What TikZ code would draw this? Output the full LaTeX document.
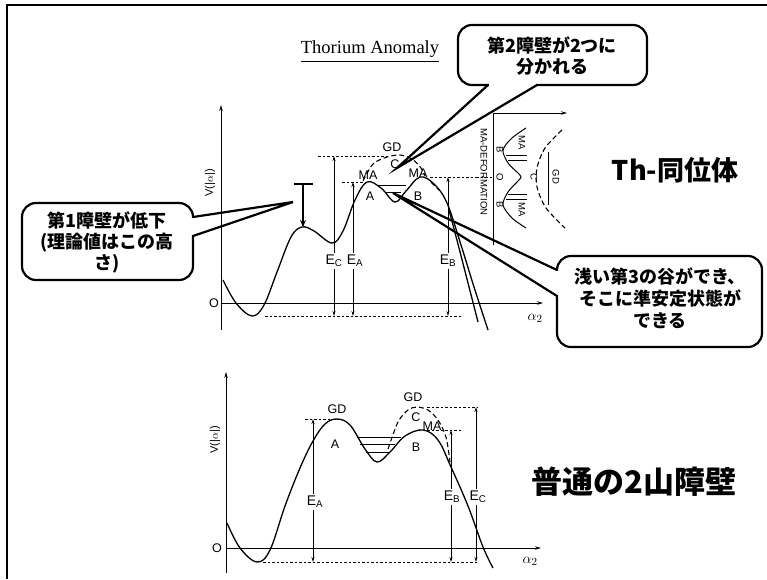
\documentclass[tikz,border=0pt]{standalone}
\usepackage{fontspec}
\setmainfont{Liberation Serif}
\setsansfont{Liberation Sans}
\newfontfamily\jp{Noto Sans CJK JP}
\usetikzlibrary{arrows.meta}
\begin{document}
\begin{tikzpicture}[x=1pt,y=-1pt,
  curve/.style={line width=1.3pt},
  axis/.style={line width=0.9pt,-{Stealth[length=6pt,width=3.5pt]}},
  dots/.style={line width=0.9pt,dash pattern=on 2.5pt off 2pt},
  dcurve/.style={line width=1.1pt,dash pattern=on 5pt off 3pt},
  earrow/.style={line width=0.8pt,-{Stealth[length=5pt,width=3pt]}},
  lab/.style={font=\sffamily\fontsize{12.5}{12.5}\selectfont,inner sep=0pt},
  rlab/.style={font=\sffamily\fontsize{9.5}{9.5}\selectfont,inner sep=0pt,rotate=-90},
  elab/.style={font=\sffamily\fontsize{14}{14}\selectfont,inner sep=2pt},
  boxline/.style={line width=2.2pt},
  ctext/.style={font=\jp\bfseries\fontsize{18}{21}\selectfont,align=center,inner sep=0pt},
  lvl/.style={line width=1pt}
]
\useasboundingbox (0,0) rectangle (767,579);
% frame
\draw[line width=2.5pt] (7,579) -- (7,5) -- (767,5);

% ================= TOP DIAGRAM =================
\node[font=\fontsize{18.5}{18.5}\selectfont,inner sep=0pt] (title) at (370,49) {Thorium Anomaly};
\draw[line width=0.8pt] ([yshift=-4pt]title.south west) -- ([yshift=-4pt]title.south east);

\coordinate (tyb) at (221,330);
\coordinate (tyt) at (221,105);
\coordinate (txl) at (221,303);
\coordinate (txr) at (543,303);
\draw[axis] (tyb) -- (tyt);
\draw[axis] (txl) -- (txr);
\node[lab,rotate=90,font=\sffamily\fontsize{11}{11}\selectfont] (tV) at (210,183) {V(|$\alpha$|)};
\node[lab] (tO) at (214,303) {O};
\node[inner sep=0pt,font=\fontsize{15}{15}\selectfont] (ta2) at (535,318) {$\alpha_2$};

% dotted lines
\draw[dots] (265,316) -- (462,316);
\draw[dots] (318,156) -- (387,156);
\draw[dots] (342,182) -- (365,182);
\draw[dots] (430,177) -- (476,177);

% potential curve
\draw[curve] plot[smooth,tension=0.6] coordinates {(223,280) (236,303) (252,316) (264,305) (277,272) (291,237) (302,227) (314,231) (332,243) (343,231) (355,200) (367,182) (381,188) (395,202) (406,191) (420,177) (434,184) (447,203) (461,245) (474,287) (488,330)};
\draw[curve] plot[smooth] coordinates {(449,210) (459,248) (478,322)};
\draw[dcurve] plot[smooth] coordinates {(363,181) (373,164) (387,157) (400,155) (412,159) (421,168) (425,176)};
\draw[dcurve] (431,182) -- (439,190);
\draw[lvl] (377,185) -- (406,185);
\draw[lvl] (385,192) -- (401,192);

\node[lab] (tGD) at (392,147) {GD};
\node[lab] (tC) at (395,164) {C};
\node[lab] (tMA1) at (368,175) {MA};
\node[lab] (tMA2) at (418,173) {MA};
\node[lab] (tA) at (370,196) {A};
\node[lab] (tB) at (418,196) {B};

% energy arrows
\node[elab] (tEC) at (334,261) {E\textsubscript{C}};
\node[elab] (tEA) at (355,261) {E\textsubscript{A}};
\node[elab] (tEB) at (448,261) {E\textsubscript{B}};
\draw[earrow] (tEC.north) -- (334,156);
\draw[earrow] (tEC.south) -- (334,316);
\draw[earrow] (tEA.north -| 353,0) -- (353,182);
\draw[earrow] (tEA.south -| 353,0) -- (353,316);
\draw[earrow] (tEB.north) -- (448,177);
\draw[earrow] (tEB.south) -- (448,316);

% inset MA-deformation
\coordinate (iyb) at (493,245);
\coordinate (ior) at (493,113);
\coordinate (ixr) at (567,113);
\draw[line width=0.9pt] (iyb) -- (ior);
\draw[axis] (ior) -- (ixr);
\node[rlab,font=\sffamily\fontsize{9.5}{9.5}\selectfont] (imd) at (484,172) {MA-DEFORMATION};
\node[rlab] (iB1) at (500,150) {B};
\node[rlab] (iO) at (500,177) {O};
\node[rlab] (iB2) at (500,205) {B};
\draw[dots] (476,177) -- (493,177);
\draw[line width=1pt] plot[smooth] coordinates {(526,128) (512,138) (503,150) (508,163) (518,173) (521,177) (518,181) (508,192) (503,205) (512,218) (526,228)};
\draw[lvl] (506,155) -- (527,155);
\draw[lvl] (508,160) -- (527,160);
\draw[lvl] (506,199) -- (527,199);
\draw[lvl] (508,194) -- (527,194);
\node[rlab] (iMA1) at (522,143) {MA};
\node[rlab] (iMA2) at (522,210) {MA};
\node[rlab] (iC) at (534,177) {C};
\node[rlab] (iGD) at (556,177) {GD};
\draw[dcurve] plot[smooth] coordinates {(562,130) (545,148) (537,168) (537,187) (546,208) (565,228)};
\draw[lvl] (548,152) -- (548,205);

% ================= BOTTOM DIAGRAM =================
\coordinate (byb) at (226,573);
\coordinate (byt) at (226,372);
\coordinate (bxl) at (226,548);
\coordinate (bxr) at (541,548);
\draw[axis] (byb) -- (byt);
\draw[axis] (bxl) -- (bxr);
\node[lab,rotate=90,font=\sffamily\fontsize{11}{11}\selectfont] (bV) at (215,440) {V(|$\alpha$|)};
\node[lab] (bO) at (217,548) {O};
\node[inner sep=0pt,font=\fontsize{15}{15}\selectfont] (ba2) at (530,561) {$\alpha_2$};

\draw[dots] (263,562) -- (478,562);
\draw[dots] (305,419) -- (337,419);
\draw[dots] (427,430) -- (462,430);
\draw[dots] (427,407) -- (478,407);

\draw[curve] plot[smooth,tension=0.6] coordinates {(227,523) (240,548) (257,562) (270,550) (285,506) (300,468) (313,441) (325,424) (337,419) (350,425) (365,449) (377,462) (390,452) (405,436) (423,430) (438,440) (451,467) (468,506) (483,547) (493,568)};
\draw[dcurve] plot[smooth] coordinates {(388,449) (398,422) (408,410) (417,407) (428,410) (438,420) (446,437) (450,462)};
\draw[lvl] (357,437) -- (401,437);
\draw[lvl] (360,444) -- (395,444);
\draw[lvl] (366,452) -- (389,452);

\node[lab] (bGD1) at (337,409) {GD};
\node[lab] (bA) at (335,444) {A};
\node[lab] (bGD2) at (413,397) {GD};
\node[lab] (bC) at (416,417) {C};
\node[lab] (bMA) at (432,426) {MA};
\node[lab] (bB) at (416,447) {B};

\node[elab] (bEA) at (315,502) {E\textsubscript{A}};
\node[elab] (bEB) at (452,497) {E\textsubscript{B}};
\node[elab] (bEC) at (478,497) {E\textsubscript{C}};
\draw[earrow] (bEA.north -| 313,0) -- (313,419);
\draw[earrow] (bEA.south -| 313,0) -- (313,562);
\draw[earrow] (bEB.north -| 451,0) -- (451,430);
\draw[earrow] (bEB.south -| 451,0) -- (451,562);
\draw[earrow] (bEC.north -| 476,0) -- (476,407);
\draw[earrow] (bEC.south -| 476,0) -- (476,562);

% ================= CALLOUTS =================
% callout 1
\coordinate (p1) at (293,202);
\draw[boxline,rounded corners=14pt,fill=white] (22,203) rectangle (193,280);
\fill[white] (190.5,218.3) rectangle (195.5,234.7);
\draw[boxline] (193,217) -- (p1) -- (193,236);
\node[ctext] (c1) at (107,242) {第1障壁が低下\\(理論値はこの高\\さ)};
\coordinate (bar) at (303,184);
\draw[line width=2pt] (294,184) -- (313,184);
\draw[line width=2pt,-{Stealth[length=7pt,width=6pt]}] (bar) -- (303,227);

% callout 2
\coordinate (p2) at (397,168);
\draw[boxline,rounded corners=14pt,fill=white] (458,25) rectangle (647,85);
\fill[white] (489.3,82.5) rectangle (535.7,87.5);
\draw[boxline] (488,85) -- (p2) -- (537,85);
\node[ctext] (c2) at (552,56) {第2障壁が2つに\\分かれる};

% callout 3
\coordinate (p3) at (393,193);
\draw[boxline,rounded corners=14pt,fill=white] (557,256) rectangle (762,347);
\fill[white] (554.5,271.3) rectangle (559.5,294.7);
\draw[boxline] (557,270) -- (p3) -- (557,296);
\node[ctext,font=\jp\bfseries\fontsize{18}{22}\selectfont] (c3) at (660,298) {浅い第3の谷ができ、\\そこに準安定状態が\\できる};

% big labels
\node[font=\jp\bfseries\fontsize{27}{27}\selectfont,inner sep=0pt] (th) at (675,170) {Th-同位体};
\node[font=\jp\bfseries\fontsize{31}{31}\selectfont,inner sep=0pt] (fu) at (634,482) {普通の2山障壁};
\end{tikzpicture}
\end{document}
